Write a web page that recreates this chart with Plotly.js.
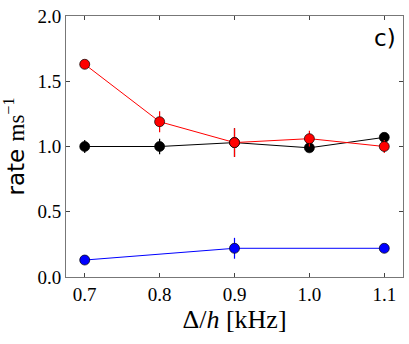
<!DOCTYPE html>
<html>
<head>
<meta charset="utf-8">
<script src="https://cdn.plot.ly/plotly-3.0.1.min.js"></script>
<style>html,body{margin:0;padding:0;background:#fff}</style>
</head>
<body>
<div id="plot" style="width:409px;height:344px"></div>
<script>
// detuning values (kHz)
const detuning = [0.7, 0.8, 0.9, 1.0, 1.1];

const redRate = [1.63, 1.19, 1.03, 1.06, 1.0];
const redErr = [0.03, 0.08, 0.11, 0.06, 0.05];

const blackRate = [1.0, 1.0, 1.03, 0.99, 1.07];
const blackErr = [0.05, 0.06, 0.11, 0.02, 0.03];

const blueX = [0.7, 0.9, 1.1];
const blueRate = [0.13, 0.22, 0.22];
const blueErr = [0.02, 0.08, 0.03];

function series(x, y, err, col) {
  return {
    x: x, y: y,
    type: "scatter",
    mode: "lines+markers",
    line: {color: col, width: 1},
    marker: {color: col, size: 10, line: {color: "#000", width: 0.7}},
    error_y: {type: "data", array: err, color: col, thickness: 1.2, width: 0},
    showlegend: false
  };
}

let traces = [
  series(blueX, blueRate, blueErr, "#0000ff"),
  series(detuning, blackRate, blackErr, "#000000"),
  series(detuning, redRate, redErr, "#ff0000")
];

let serif = "Liberation Serif, DejaVu Serif, serif";

let layout = {
  width: 409, height: 344,
  margin: {l: 66, r: 6, t: 16, b: 67},
  plot_bgcolor: "#fff", paper_bgcolor: "#fff",
  xaxis: {
    range: [0.675, 1.125],
    tickvals: detuning,
    ticktext: ["0.7", "0.8", "0.9", "1.0", "1.1"],
    ticks: "inside", ticklen: 4, tickcolor: "#444",
    showline: true, linecolor: "#777", mirror: "ticks",
    showgrid: false, zeroline: false,
    tickfont: {family: serif, size: 19, color: "#000"},
    title: {text: "Δ/<i>h</i> [kHz]", font: {family: serif, size: 26, color: "#000"}, standoff: 4}
  },
  yaxis: {
    range: [0, 2.0],
    tickvals: [0, 0.5, 1.0, 1.5, 2.0],
    ticktext: ["0.0", "0.5", "1.0", "1.5", "2.0"],
    ticks: "inside", ticklen: 4, tickcolor: "#444",
    showline: true, linecolor: "#777", mirror: "ticks",
    showgrid: false, zeroline: false,
    tickfont: {family: serif, size: 19, color: "#000"},
    title: {text: "rate <span style='font-family:Liberation Serif'>ms<sup>−1</sup></span>", font: {family: "DejaVu Sans, sans-serif", size: 23, color: "#000"}, standoff: 6}
  },
  annotations: [{
    text: "c)", xref: "paper", yref: "paper", x: 0.985, y: 0.975,
    xanchor: "right", yanchor: "top", showarrow: false,
    font: {family: "DejaVu Sans, sans-serif", size: 23, color: "#000"}
  }]
};

Plotly.newPlot("plot", traces, layout, {displayModeBar: false});
</script>
</body>
</html>
